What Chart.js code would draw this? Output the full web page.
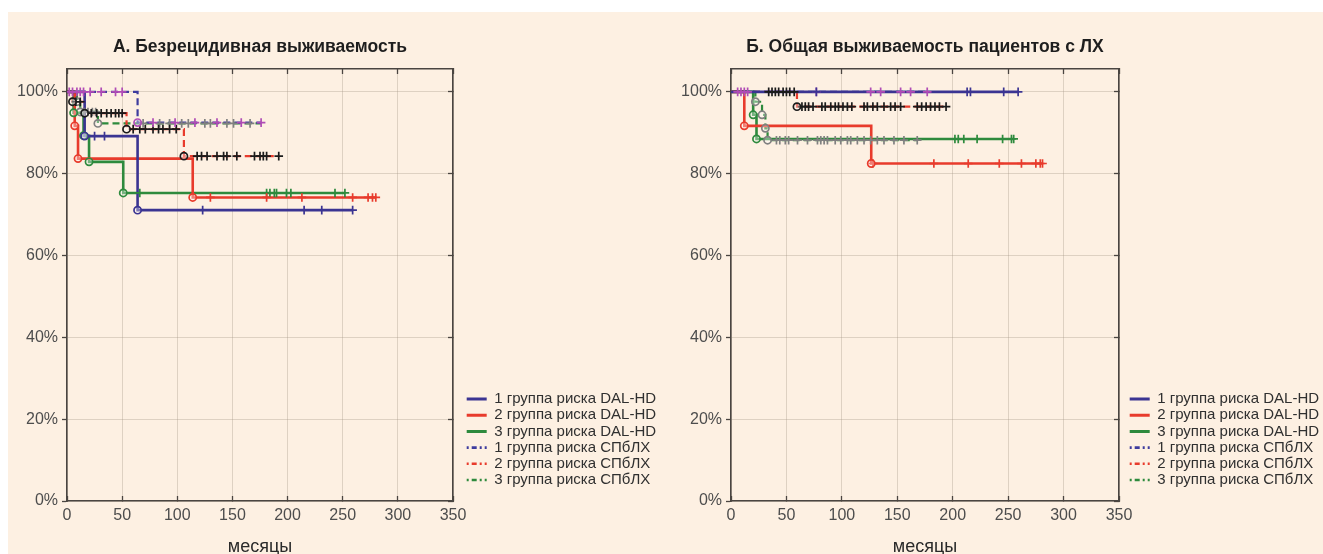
<!DOCTYPE html>
<html><head><meta charset="utf-8">
<script src="https://cdn.jsdelivr.net/npm/chart.js@4.4.1/dist/chart.umd.min.js"></script>
<style>
html,body{margin:0;padding:0;}
body{width:1323px;height:554px;overflow:hidden;background:#fff;position:relative;}
#bg{position:absolute;left:8px;top:12px;right:0;bottom:0;background:#fdf0e2;}
.wrap{position:absolute;top:0;}
</style></head>
<body>
<div id="bg"></div>
<div class="wrap" style="left:0;width:700px;height:560px"><canvas id="cA" width="700" height="560"></canvas></div>
<div class="wrap" style="left:662px;width:740px;height:560px"><canvas id="cB" width="740" height="560"></canvas></div>
<script>
// ---------- tick labels / categories ----------
const xTicks = [0, 50, 100, 150, 200, 250, 300, 350];
const yTicks = [0, 20, 40, 60, 80, 100];
const seriesNames = ['1 группа риска DAL-HD', '2 группа риска DAL-HD', '3 группа риска DAL-HD',
                     '1 группа риска СПбЛХ', '2 группа риска СПбЛХ', '3 группа риска СПбЛХ'];
const titleA = 'А. Безрецидивная выживаемость';
const titleB = 'Б. Общая выживаемость пациентов с ЛХ';
const xTitle = 'месяцы';

// ---------- Chart A: relapse-free survival (months / %) ----------
const A_dal1_t = [0, 16, 64, 259];
const A_dal1_s = [100, 89.2, 71.1, 71.1];
const A_dal1_c = [25, 34, 123, 215, 231, 259];
const A_dal2_t = [0, 7, 10, 114, 280];
const A_dal2_s = [100, 91.7, 83.7, 74.2, 74.2];
const A_dal2_c = [130, 181, 213, 259, 273, 277, 280];
const A_dal3_t = [0, 6, 15, 20, 51, 252];
const A_dal3_s = [100, 94.9, 89.3, 82.9, 75.3, 75.3];
const A_dal3_c = [66, 181, 184, 188, 190, 199, 203, 243, 252];
const A_spb1_t = [0, 64, 176];
const A_spb1_s = [100, 92.5, 92.5];
const A_spb1_c = [2, 5, 9, 12, 15, 21, 31, 44, 50, 78, 98, 116, 136, 158, 176];
const A_spb2_t = [0, 5, 16, 54, 106, 192];
const A_spb2_s = [100, 97.6, 94.8, 90.9, 84.3, 84.3];
const A_spb2_c = [8, 12, 22, 27, 31, 36, 40, 44, 47, 50, 60, 66, 71, 78, 83, 87, 93, 99,
                  118, 122, 127, 136, 142, 145, 154, 170, 175, 178, 181, 192];
const A_spb3_t = [0, 9, 12, 28, 176];
const A_spb3_s = [100, 97.6, 95.1, 92.3, 92.3];
const A_spb3_c = [16, 19, 23, 26, 69, 84, 93, 104, 110, 125, 130, 145, 151, 166];

// ---------- Chart B: overall survival (months / %) ----------
const B_dal1_t = [0, 259];
const B_dal1_s = [100, 100];
const B_dal1_c = [77, 213, 216, 246, 259];
const B_dal2_t = [0, 12, 126.5, 281];
const B_dal2_s = [100, 91.7, 82.5, 82.5];
const B_dal2_c = [128, 183, 214, 242, 262, 275, 279, 281];
const B_dal3_t = [0, 20, 23, 255];
const B_dal3_s = [100, 94.4, 88.5, 88.5];
const B_dal3_c = [202, 205, 210, 222, 245, 253, 255];
const B_spb1_t = [0, 177];
const B_spb1_s = [100, 100];
const B_spb1_c = [6, 9, 12, 15, 77, 126, 135, 153, 162, 177];
const B_spb2_t = [0, 59.5, 194];
const B_spb2_s = [100, 96.4, 96.4];
const B_spb2_c = [34, 37, 40, 43, 47, 50, 53, 57, 64, 67, 70, 74, 82, 85, 90, 94, 97, 101, 105, 109,
                  120, 123, 128, 132, 138, 144, 148, 153, 168, 172, 176, 180, 184, 188, 194];
const B_spb3_t = [0, 22, 28, 31, 33, 168];
const B_spb3_s = [100, 97.6, 94.4, 91.1, 88.2, 88.2];
const B_spb3_c = [41, 44, 49, 52, 60, 69, 78, 81, 84, 87, 94, 99, 105, 108, 114, 120, 126, 132, 138, 147, 156, 168];

// ---------- styles ----------
const styles = [
  {color: '#3b3492', dash: [], legDash: [], width: 2.6, mark: '#3b3492'},
  {color: '#e83b2c', dash: [], legDash: [], width: 2.6, mark: '#e83b2c'},
  {color: '#2e8a3d', dash: [], legDash: [], width: 2.6, mark: '#2e8a3d'},
  {color: '#3e3c9e', dash: [7, 4], legDash: [2, 3, 5, 3], width: 2.2, mark: '#b04cb6'},
  {color: '#e83b2c', dash: [7, 4], legDash: [2, 3, 5, 3], width: 2.2, mark: '#1b1b1b'},
  {color: '#2e8a3d', dash: [7, 4], legDash: [2, 3, 5, 3], width: 2.2, mark: '#808080'}
];
const FONT = "'Liberation Sans', Arial, sans-serif";
const LEG_FS = 15, LEG_PAD = 1.2, LEG_BOX = 20;

function survAt(t, T, S) {
  let v = S[0];
  for (let i = 0; i < T.length; i++) if (T[i] <= t) v = S[i];
  return v;
}

// legend width as Chart.js will measure it (used only to fix the layout)
function legendWidth() {
  const c = document.createElement('canvas').getContext('2d');
  c.font = LEG_FS + 'px ' + FONT;
  const tw = Math.max(...seriesNames.map(n => c.measureText(n).width));
  return LEG_PAD + LEG_BOX + LEG_FS / 2 + tw + 10 - 4;
}

function buildDatasets(series) {
  const lines = [], marks = [];
  series.forEach((s, i) => {
    const st = styles[i];
    lines.push({
      label: seriesNames[i],
      data: s.t.map((t, k) => ({x: t, y: s.s[k]})),
      stepped: 'before', showLine: true, fill: false,
      borderColor: st.color, backgroundColor: 'transparent',
      borderDash: st.dash, borderWidth: st.width,
      pointRadius: 0, pointHoverRadius: 0, order: 2,
      xAxisID: 'x', yAxisID: 'y'
    });
    marks.push({
      label: 'ev' + i,
      data: s.t.slice(1, -1).map((t, k) => ({x: t, y: s.s[k + 1]})),
      showLine: false, pointStyle: 'circle', pointRadius: 3.6, pointHoverRadius: 3.6,
      pointBorderColor: st.mark, pointBackgroundColor: 'rgba(255,255,255,0.35)', pointBorderWidth: 1.7,
      order: 1, xAxisID: 'x', yAxisID: 'y'
    });
    marks.push({
      label: 'cens' + i,
      data: s.c.map(t => ({x: t, y: survAt(t, s.t, s.s)})),
      showLine: false, pointStyle: 'cross', pointRadius: 4.3, pointHoverRadius: 4.3,
      pointBorderColor: st.mark, pointBackgroundColor: st.mark, pointBorderWidth: 1.7,
      order: 1, xAxisID: 'x', yAxisID: 'y'
    });
  });
  return lines.concat(marks);
}

function makeChart(id, title, series, cfg) {
  const frame = '#4a4541';
  const gridC = 'rgba(160,145,130,0.33)';
  const lw = legendWidth();
  const canvasW = document.getElementById(id).width;
  const padR = canvasW - cfg.chartRight - cfg.y2W - lw;
  return new Chart(document.getElementById(id), {
    type: 'line',
    data: {datasets: buildDatasets(series)},
    options: {
      responsive: false, animation: false, devicePixelRatio: 1,
      layout: {padding: {left: 0, top: 0, right: padR, bottom: 0}},
      plugins: {
        tooltip: {enabled: false},
        title: {
          display: true, text: title, fullSize: false, color: '#1e1e1e',
          font: {family: FONT, size: 17.5, weight: 'bold', lineHeight: 1.2},
          padding: {top: 36.5, bottom: 11.5}
        },
        legend: {
          display: true, position: 'right', align: 'start', fullSize: false, maxWidth: lw,
          title: {display: true, text: '', font: {size: 1, lineHeight: 1}, padding: {top: 320.3, bottom: 0}},
          labels: {
            usePointStyle: true, pointStyleWidth: LEG_BOX, boxHeight: LEG_FS,
            padding: LEG_PAD, color: '#303030',
            font: {family: FONT, size: LEG_FS},
            generateLabels: chart => chart.data.datasets.slice(0, 6).map((ds, i) => ({
              text: ds.label, datasetIndex: i, hidden: false,
              strokeStyle: ds.borderColor, fillStyle: ds.borderColor,
              lineWidth: ds.borderWidth + 0.4, lineDash: styles[i].legDash, lineCap: 'butt',
              pointStyle: 'line', fontColor: '#303030'
            }))
          }
        }
      },
      scales: {
        x: {
          type: 'linear', position: 'bottom', min: 0, max: 350,
          afterBuildTicks: s => { s.ticks = xTicks.map(v => ({value: v})); },
          ticks: {color: '#4d4d4d', font: {family: FONT, size: 16}, padding: 9.5, maxRotation: 0},
          grid: {color: gridC, lineWidth: 1, drawTicks: true, tickLength: -5, tickColor: frame, tickWidth: 1.3},
          border: {display: true, color: frame, width: 1.6},
          title: {display: true, text: xTitle, color: '#2a2a2a', font: {family: FONT, size: 18},
                  padding: {top: 2, bottom: 2.2}}
        },
        x2: {
          type: 'linear', position: 'top', min: 0, max: 350,
          afterBuildTicks: s => { s.ticks = xTicks.map(v => ({value: v})); },
          ticks: {display: false},
          grid: {drawOnChartArea: false, drawTicks: true, tickLength: -5, tickColor: frame, tickWidth: 1.3},
          border: {display: true, color: frame, width: 1.6},
          afterFit: s => { s.height = 0; }
        },
        y: {
          type: 'linear', position: 'left', min: 0, max: 105.6,
          afterBuildTicks: s => { s.ticks = yTicks.map(v => ({value: v})); },
          ticks: {color: '#4d4d4d', font: {family: FONT, size: 16}, padding: 4, callback: v => v + '%'},
          grid: {color: gridC, lineWidth: 1, drawTicks: true, tickLength: 5, tickColor: frame, tickWidth: 1.3},
          border: {display: true, color: frame, width: 1.6},
          afterFit: s => { s.width = cfg.yW; }
        },
        y2: {
          type: 'linear', position: 'right', min: 0, max: 105.6,
          afterBuildTicks: s => { s.ticks = yTicks.map(v => ({value: v})); },
          ticks: {display: false},
          grid: {drawOnChartArea: false, drawTicks: true, tickLength: -5, tickColor: frame, tickWidth: 1.3},
          border: {display: true, color: frame, width: 1.6},
          afterFit: s => { s.width = cfg.y2W; }
        }
      }
    }
  });
}

const seriesA = [
  {t: A_dal1_t, s: A_dal1_s, c: A_dal1_c}, {t: A_dal2_t, s: A_dal2_s, c: A_dal2_c},
  {t: A_dal3_t, s: A_dal3_s, c: A_dal3_c}, {t: A_spb1_t, s: A_spb1_s, c: A_spb1_c},
  {t: A_spb2_t, s: A_spb2_s, c: A_spb2_c}, {t: A_spb3_t, s: A_spb3_s, c: A_spb3_c}
];
const seriesB = [
  {t: B_dal1_t, s: B_dal1_s, c: B_dal1_c}, {t: B_dal2_t, s: B_dal2_s, c: B_dal2_c},
  {t: B_dal3_t, s: B_dal3_s, c: B_dal3_c}, {t: B_spb1_t, s: B_spb1_s, c: B_spb1_c},
  {t: B_spb2_t, s: B_spb2_s, c: B_spb2_c}, {t: B_spb3_t, s: B_spb3_s, c: B_spb3_c}
];

makeChart('cA', titleA, seriesA, {chartRight: 453, yW: 67, y2W: 12.5});
makeChart('cB', titleB, seriesB, {chartRight: 457, yW: 69, y2W: 9.5});
</script>
</body></html>
